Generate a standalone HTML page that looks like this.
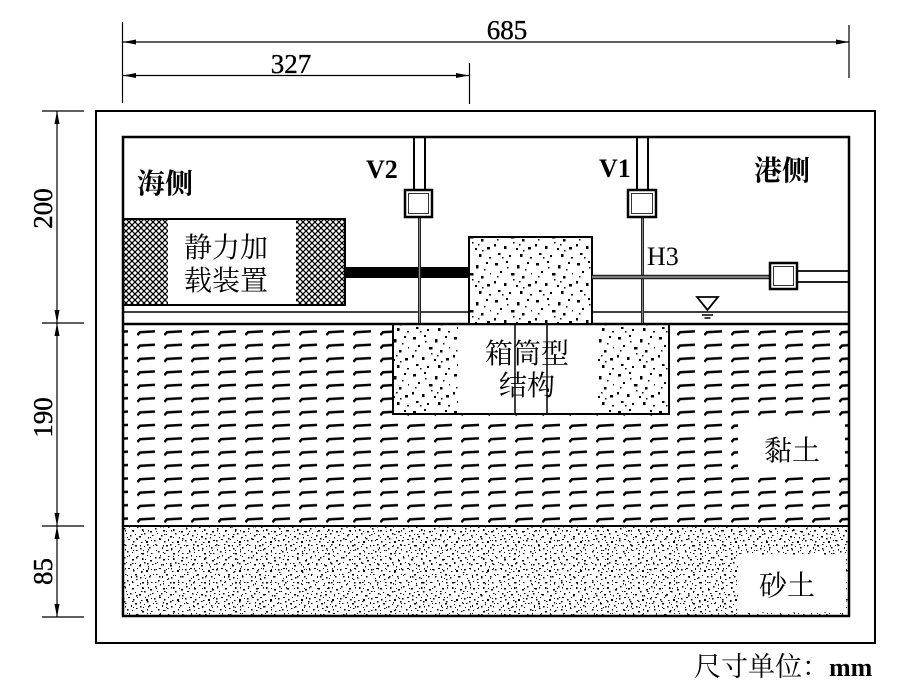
<!DOCTYPE html>
<html><head><meta charset="utf-8"><style>
html,body{margin:0;padding:0;background:#fff;}
svg{display:block;}
.cn{font-family:"Liberation Serif","Noto Serif CJK SC","Noto Serif CJK JP","Noto Serif CJK",serif;font-size:28px;font-weight:normal;}
.cnb{font-family:"Liberation Serif","Noto Serif CJK SC","Noto Serif CJK JP","Noto Serif CJK",serif;font-size:28px;font-weight:bold;}
.num{font-family:"Liberation Serif","Times New Roman","DejaVu Serif",serif;font-size:27px;stroke:#000;stroke-width:0.35;}
.lat{font-family:"Liberation Serif","Times New Roman","DejaVu Serif",serif;font-size:26px;}
</style></head><body>
<svg width="915" height="682" viewBox="0 0 915 682" xmlns="http://www.w3.org/2000/svg">
<defs>
<pattern id="clay" patternUnits="userSpaceOnUse" x="137" y="327" width="27" height="13.37">
 <path d="M0.3,8 L3,5.2 L18,4.3" fill="none" stroke="#000" stroke-width="2.5"/>
</pattern>
<pattern id="mesh" patternUnits="userSpaceOnUse" x="123" y="219" width="6" height="6">
 <rect width="6" height="6" fill="#000"/>
 <path d="M3,0.9 L5.1,3 L3,5.1 L0.9,3Z M0,-2.1 L2.1,0 L0,2.1 L-2.1,0Z M6,-2.1 L8.1,0 L6,2.1 L3.9,0Z M0,3.9 L2.1,6 L0,8.1 L-2.1,6Z M6,3.9 L8.1,6 L6,8.1 L3.9,6Z" fill="#fff"/>
</pattern>
<pattern id="sandA" patternUnits="userSpaceOnUse" x="123" y="526" width="31" height="29">
 <g fill="#000">
 <rect x="1" y="2" width="1.5" height="1.5"/><rect x="6" y="0" width="1" height="1.5"/><rect x="9" y="4" width="2" height="1.5"/>
 <rect x="14" y="1" width="1.5" height="1"/><rect x="19" y="3" width="1.5" height="2"/><rect x="24" y="0" width="1" height="1"/>
 <rect x="27" y="5" width="2" height="1.5"/><rect x="3" y="7" width="1" height="1"/><rect x="7" y="9" width="1.5" height="1.5"/>
 <rect x="12" y="8" width="1" height="1"/><rect x="16" y="10" width="2" height="1.5"/><rect x="21" y="7" width="1.5" height="1.5"/>
 <rect x="25" y="11" width="1" height="1.5"/><rect x="29" y="9" width="1.5" height="1"/><rect x="0" y="14" width="1.5" height="1.5"/>
 <rect x="5" y="13" width="2" height="1"/><rect x="10" y="15" width="1.5" height="1.5"/><rect x="14" y="13" width="1" height="1"/>
 <rect x="18" y="16" width="1.5" height="1"/><rect x="23" y="15" width="2" height="2"/><rect x="28" y="14" width="1" height="1"/>
 <rect x="2" y="19" width="1.5" height="1"/><rect x="8" y="21" width="1" height="2"/><rect x="12" y="19" width="2" height="1.5"/>
 <rect x="17" y="22" width="1.5" height="1.5"/><rect x="21" y="20" width="1" height="1"/><rect x="26" y="21" width="1.5" height="1.5"/>
 <rect x="30" y="19" width="1" height="1"/><rect x="4" y="25" width="1.5" height="1.5"/><rect x="9" y="26" width="1" height="1"/>
 <rect x="13" y="24" width="1.5" height="1"/><rect x="19" y="27" width="2" height="1.5"/><rect x="24" y="25" width="1" height="1.5"/>
 <rect x="28" y="27" width="1.5" height="1"/>
 </g>
</pattern>
<pattern id="sandB" patternUnits="userSpaceOnUse" x="130" y="529" width="23" height="19">
 <g fill="#000">
 <rect x="3" y="2" width="1" height="1"/><rect x="11" y="5" width="1.5" height="1"/><rect x="18" y="1" width="1" height="1.5"/>
 <rect x="6" y="9" width="1.5" height="1.5"/><rect x="15" y="11" width="1" height="1"/><rect x="20" y="8" width="1" height="1"/>
 <rect x="2" y="15" width="1.5" height="1"/><rect x="10" y="16" width="1" height="1.5"/><rect x="17" y="15" width="1.5" height="1.5"/>
 <rect x="13" y="2" width="1" height="1"/>
 </g>
</pattern>
<pattern id="conc" patternUnits="userSpaceOnUse" x="0" y="0" width="41" height="37">
 <g fill="#000">
 <rect x="3" y="4" width="3" height="2.5"/><rect x="14" y="2" width="2" height="2"/><rect x="25" y="6" width="2.5" height="3.5"/>
 <rect x="35" y="3" width="2" height="2"/><rect x="8" y="12" width="2" height="2"/><rect x="19" y="14" width="3.5" height="2.5"/>
 <rect x="30" y="17" width="2.5" height="2.5"/><rect x="2" y="22" width="2" height="2.5"/><rect x="12" y="24" width="2.5" height="3"/>
 <rect x="24" y="26" width="2" height="2"/><rect x="36" y="25" width="3" height="2.5"/><rect x="6" y="31" width="2.5" height="2"/>
 <rect x="17" y="33" width="2" height="2"/><rect x="28" y="32" width="2.5" height="3"/><rect x="38" y="35" width="2" height="1.5"/>
 <rect x="21" y="20" width="1.5" height="1.5"/><rect x="33" y="10" width="1.5" height="1.5"/><rect x="10" y="35" width="1.5" height="1.5"/>
 <rect x="5" y="17" width="1.5" height="1.5"/><rect x="39" y="14" width="1" height="1.5"/><rect x="15" y="8" width="1.5" height="1.5"/>
 <rect x="27" y="22" width="1.5" height="1.5"/><rect x="31" y="28" width="1.5" height="1.5"/>
 </g>
</pattern>
</defs>

<!-- dimension lines -->
<g stroke="#000" stroke-width="1.2" fill="none">
 <line x1="122.5" y1="22" x2="122.5" y2="103"/>
 <line x1="123" y1="42" x2="849" y2="42"/>
 <line x1="849" y1="25" x2="849" y2="78"/>
 <line x1="123" y1="75.5" x2="469" y2="75.5"/>
 <line x1="469.5" y1="63" x2="469.5" y2="104"/>
 <line x1="57" y1="111" x2="57" y2="617"/>
 <line x1="42" y1="111" x2="84" y2="111"/>
 <line x1="42" y1="323" x2="84" y2="323"/>
 <line x1="42" y1="526" x2="84" y2="526"/>
 <line x1="42" y1="617" x2="84" y2="617"/>
</g>
<g fill="#000">
 <polygon points="123,42 136,39.5 136,44.5"/>
 <polygon points="849,42 836,39.5 836,44.5"/>
 <polygon points="123,75.5 136,73 136,78"/>
 <polygon points="469,75.5 456,73 456,78"/>
 <polygon points="57,111 54.5,124 59.5,124"/>
 <polygon points="57,323 54.5,310 59.5,310"/>
 <polygon points="57,323 54.5,336 59.5,336"/>
 <polygon points="57,526 54.5,513 59.5,513"/>
 <polygon points="57,526 54.5,539 59.5,539"/>
 <polygon points="57,617 54.5,604 59.5,604"/>
</g>
<text class="num" x="507" y="39" text-anchor="middle">685</text>
<text class="num" x="291" y="73" text-anchor="middle">327</text>
<text class="num" transform="translate(52,208.5) rotate(-90)" text-anchor="middle">200</text>
<text class="num" transform="translate(52,417.5) rotate(-90)" text-anchor="middle">190</text>
<text class="num" transform="translate(52,571.5) rotate(-90)" text-anchor="middle">85</text>

<!-- outer box -->
<rect x="96" y="111" width="779" height="532" fill="none" stroke="#000" stroke-width="2"/>

<!-- clay -->
<rect x="123" y="324" width="726" height="202" fill="url(#clay)"/>
<rect x="738" y="420" width="107" height="54" fill="#fff"/>
<!-- sand -->
<rect x="123" y="526" width="726" height="90" fill="url(#sandA)"/>
<rect x="123" y="526" width="726" height="90" fill="url(#sandB)"/>
<rect x="738" y="555" width="108" height="57" fill="#fff"/>

<!-- caisson -->
<rect x="393" y="324" width="276" height="90" fill="#fff" stroke="#000" stroke-width="2"/>
<rect x="394" y="325" width="64" height="88" fill="url(#conc)"/>
<rect x="598" y="325" width="70" height="88" fill="url(#conc)"/>
<line x1="515" y1="324" x2="515" y2="414" stroke="#000" stroke-width="1.5"/>
<line x1="547" y1="324" x2="547" y2="414" stroke="#000" stroke-width="1.5"/>

<!-- ground/water lines -->
<line x1="123" y1="312" x2="849" y2="312" stroke="#000" stroke-width="1.6"/>
<line x1="123" y1="324" x2="849" y2="324" stroke="#000" stroke-width="2.5"/>
<line x1="123" y1="526" x2="849" y2="526" stroke="#000" stroke-width="2"/>

<!-- top block -->
<rect x="469" y="237" width="123" height="87" fill="#fff" stroke="#000" stroke-width="2"/>
<rect x="470" y="238" width="121" height="85" fill="url(#conc)"/>

<!-- loading device -->
<rect x="123" y="219" width="45" height="86" fill="url(#mesh)"/>
<rect x="296" y="219" width="49" height="86" fill="url(#mesh)"/>
<rect x="123" y="219" width="222" height="86" fill="none" stroke="#000" stroke-width="2"/>
<rect x="345" y="267" width="124" height="11" fill="#000"/>

<!-- V2 -->
<line x1="414" y1="137" x2="414" y2="190" stroke="#000" stroke-width="2"/>
<line x1="425" y1="137" x2="425" y2="190" stroke="#000" stroke-width="2"/>
<line x1="419.5" y1="217" x2="419.5" y2="323" stroke="#222" stroke-width="3"/>
<line x1="419.5" y1="217" x2="419.5" y2="323" stroke="#888" stroke-width="1"/>
<rect x="405" y="190" width="27" height="27" fill="#fff" stroke="#000" stroke-width="2.5"/>
<rect x="408.5" y="193.5" width="20" height="20" fill="none" stroke="#000" stroke-width="0.8"/>

<!-- V1 -->
<line x1="637" y1="137" x2="637" y2="190" stroke="#000" stroke-width="2"/>
<line x1="648" y1="137" x2="648" y2="190" stroke="#000" stroke-width="2"/>
<line x1="642.5" y1="217" x2="642.5" y2="323" stroke="#222" stroke-width="3"/>
<line x1="642.5" y1="217" x2="642.5" y2="323" stroke="#888" stroke-width="1"/>
<rect x="628" y="190" width="28" height="27" fill="#fff" stroke="#000" stroke-width="2.5"/>
<rect x="631.5" y="193.5" width="21" height="20" fill="none" stroke="#000" stroke-width="0.8"/>

<!-- H3 -->
<line x1="592" y1="277" x2="770" y2="277" stroke="#222" stroke-width="4.5"/>
<line x1="592" y1="277" x2="770" y2="277" stroke="#999" stroke-width="1.5"/>
<line x1="797" y1="271" x2="849" y2="271" stroke="#000" stroke-width="1.8"/>
<line x1="797" y1="282" x2="849" y2="282" stroke="#000" stroke-width="1.8"/>
<rect x="770" y="263" width="27" height="26" fill="#fff" stroke="#000" stroke-width="2.5"/>
<rect x="773.5" y="266.5" width="20" height="19" fill="none" stroke="#000" stroke-width="0.8"/>

<!-- water symbol -->
<polygon points="697,297 718,297 707.5,310" fill="#fff" stroke="#000" stroke-width="1.8"/>
<line x1="702" y1="315" x2="713" y2="315" stroke="#000" stroke-width="1.5"/>
<line x1="704.5" y1="318" x2="710.5" y2="318" stroke="#000" stroke-width="1.5"/>

<!-- inner box -->
<rect x="123" y="137" width="726" height="479" fill="none" stroke="#000" stroke-width="2.5"/>

<!-- labels -->
<text class="cnb" x="137" y="193">海侧</text>
<text class="cnb" x="754" y="180">港侧</text>
<text class="cn" x="184" y="257">静力加</text>
<text class="cn" x="184" y="290">载装置</text>
<text class="cn" x="485" y="363">箱筒型</text>
<text class="cn" x="499" y="395">结构</text>
<text class="cn" x="764" y="460">黏土</text>
<text class="cn" x="759" y="595">砂土</text>
<text class="cn" x="694" y="676" style="font-size:27px">尺寸单位：<tspan class="lat" style="font-weight:bold;font-size:26px">mm</tspan></text>
<text class="lat" x="366" y="178" style="font-weight:bold">V2</text>
<text class="lat" x="599" y="177" style="font-weight:bold">V1</text>
<text class="lat" x="647" y="265">H3</text>
</svg>
</body></html>
